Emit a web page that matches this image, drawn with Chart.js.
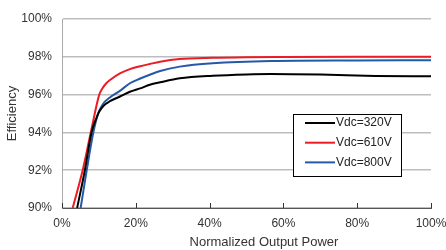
<!DOCTYPE html>
<html>
<head>
<meta charset="utf-8">
<script src="https://cdn.jsdelivr.net/npm/chart.js@4/dist/chart.umd.min.js"></script>
<style>
  html, body { margin: 0; padding: 0; background: #fff; }
</style>
</head>
<body>
<canvas id="chart" width="446" height="250"></canvas>
<script>
// values
let labels = ["Vdc=320V", "Vdc=610V", "Vdc=800V"];
let colors = ["#000000", "#ec1c24", "#2658a8"];

let power320 = [4.1, 6.2, 8.0, 9.4, 10.1, 11.2, 13, 15.7, 18.4, 21.2, 23.8, 26.6, 31.9, 40.8, 50, 56.5, 70, 85, 100];
let eff320   = [90.0, 92.0, 94.0, 94.8, 95.1, 95.4, 95.65, 95.9, 96.15, 96.33, 96.52, 96.65, 96.86, 97.0, 97.07, 97.09, 97.06, 96.99, 96.97];

let power610 = [2.9, 5.6, 7.8, 10.1, 10.8, 12, 13, 15.7, 18.4, 21.2, 23.8, 26.6, 31.9, 40.8, 50, 60, 80, 100];
let eff610   = [90.0, 92.0, 94.0, 96.0, 96.28, 96.6, 96.77, 97.12, 97.35, 97.5, 97.62, 97.74, 97.88, 97.95, 97.98, 97.99, 98.0, 98.0];

let power800 = [5.05, 6.7, 8.5, 9.8, 10.5, 11.5, 13, 15.7, 18.4, 21.2, 23.8, 26.6, 31.9, 40.8, 56.5, 80, 100];
let eff800   = [90.0, 92.0, 94.0, 95.0, 95.3, 95.6, 95.85, 96.2, 96.6, 96.85, 97.05, 97.25, 97.48, 97.66, 97.78, 97.81, 97.82];

let xTicks = [0, 20, 40, 60, 80, 100];
let yTicks = [90, 92, 94, 96, 98, 100];

function pts(xs, ys) {
    return xs.map((x, i) => ({ x: x, y: ys[i] }));
}

let font = "'Liberation Sans', Arial, sans-serif";
Chart.defaults.font.family = font;
Chart.defaults.color = "#333";

// tick marks pointing up into the plot, legend box and x title
let extras = {
    id: "extras",
    afterDraw(chart) {
        let ctx = chart.ctx;
        let x = chart.scales.x;
        let area = chart.chartArea;
        ctx.save();
        ctx.strokeStyle = "#333";
        ctx.lineWidth = 1;
        xTicks.forEach(v => {
            let px = Math.round(x.getPixelForValue(v)) + 0.5;
            ctx.beginPath();
            ctx.moveTo(px, area.bottom);
            ctx.lineTo(px, area.bottom - 5);
            ctx.stroke();
        });

        // legend
        let bx = 293, by = 114, bw = 108, bh = 62;
        ctx.fillStyle = "#fff";
        ctx.fillRect(bx, by, bw, bh);
        ctx.strokeStyle = "#000";
        ctx.strokeRect(bx + 0.5, by + 0.5, bw, bh);
        ctx.font = "12px " + font;
        ctx.textBaseline = "middle";
        labels.forEach((l, i) => {
            let ly = by + 9 + i * 19.7;
            ctx.strokeStyle = colors[i];
            ctx.lineWidth = 2;
            ctx.beginPath();
            ctx.moveTo(bx + 12, ly);
            ctx.lineTo(bx + 42, ly);
            ctx.stroke();
            ctx.fillStyle = "#222";
            ctx.fillText(l, bx + 43, ly);
        });

        ctx.font = "13px " + font;
        ctx.fillStyle = "#333";
        ctx.textAlign = "center";
        ctx.textBaseline = "middle";
        ctx.fillText("Normalized Output Power", 264, 242);
        ctx.restore();
    }
};

new Chart(document.getElementById("chart"), {
    type: "line",
    data: {
        datasets: [
            { label: labels[0], data: pts(power320, eff320), borderColor: colors[0] },
            { label: labels[2], data: pts(power800, eff800), borderColor: colors[2] },
            { label: labels[1], data: pts(power610, eff610), borderColor: colors[1] }
        ]
    },
    options: {
        responsive: false,
        animation: false,
        layout: { padding: { top: 19, right: 0, left: 0, bottom: 0 } },
        elements: {
            line: { borderWidth: 2, cubicInterpolationMode: "monotone" },
            point: { radius: 0 }
        },
        plugins: { legend: { display: false }, tooltip: { enabled: false } },
        scales: {
            x: {
                type: "linear",
                min: 0, max: 100,
                afterBuildTicks: s => { s.ticks = xTicks.map(v => ({ value: v })); },
                afterFit: s => { s.height = 42; s.paddingLeft = 0; s.paddingRight = 15; },
                ticks: { callback: v => v + "%", padding: 8, font: { size: 12 }, maxRotation: 0 },
                grid: { display: false, drawTicks: false },
                border: { display: true, color: "#555", width: 1 }
            },
            y: {
                min: 90, max: 100,
                afterBuildTicks: s => { s.ticks = yTicks.map(v => ({ value: v })); },
                afterFit: s => { s.width = 62; },
                ticks: { callback: v => v + "%", padding: 10, font: { size: 12 } },
                grid: { color: "#bdbdbd", lineWidth: 1.5, drawTicks: false },
                border: { display: true, color: "#aaa", width: 1 },
                title: { display: true, text: "Efficiency", font: { size: 13 }, padding: { top: 5, bottom: 0 } }
            }
        }
    },
    plugins: [extras]
});
</script>
</body>
</html>
